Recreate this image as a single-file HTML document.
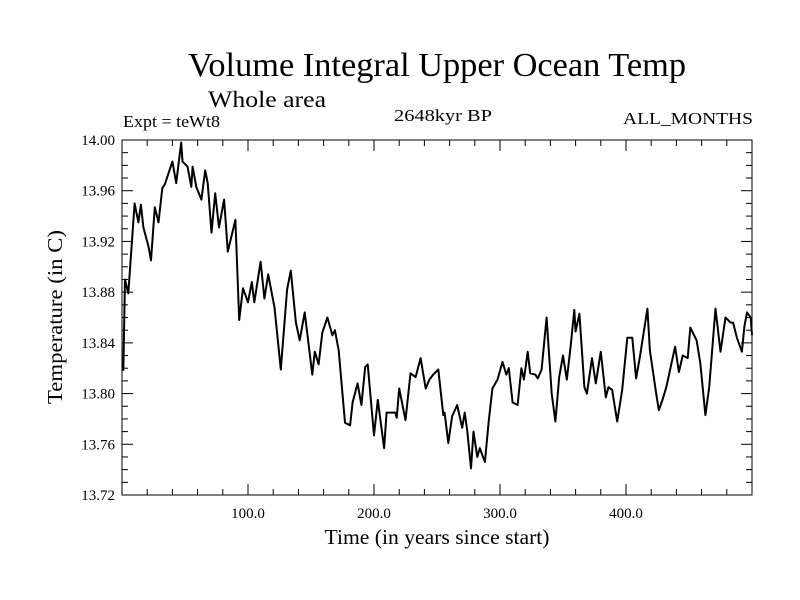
<!DOCTYPE html>
<html><head><meta charset="utf-8"><style>
html,body{margin:0;padding:0;background:#fff;}
svg{display:block;font-family:"Liberation Serif",serif;}
</style></head><body>
<svg id="chart" width="800" height="600" viewBox="0 0 800 600" xmlns="http://www.w3.org/2000/svg">
<rect width="800" height="600" fill="#fff"/>
<text x="437" y="76" font-size="34" text-anchor="middle" textLength="498" lengthAdjust="spacingAndGlyphs">Volume Integral Upper Ocean Temp</text>
<text x="208" y="107" font-size="23" textLength="118" lengthAdjust="spacingAndGlyphs">Whole area</text>
<text x="123" y="127" font-size="17" textLength="97" lengthAdjust="spacingAndGlyphs">Expt = teWt8</text>
<text x="443" y="121" font-size="17" text-anchor="middle" textLength="98" lengthAdjust="spacingAndGlyphs">2648kyr BP</text>
<text x="753" y="124" font-size="17" text-anchor="end" textLength="130" lengthAdjust="spacingAndGlyphs">ALL_MONTHS</text>
<text x="437" y="544" font-size="21" text-anchor="middle" textLength="225" lengthAdjust="spacingAndGlyphs">Time (in years since start)</text>
<text transform="translate(62,317) rotate(-90)" font-size="21" text-anchor="middle" textLength="174" lengthAdjust="spacingAndGlyphs">Temperature (in C)</text>
<g id="axes"></g>
<g id="series"></g>
</svg>
<script>
const years=[1,2.4,5,10,13,15,17,21,23,26,29,32,34,40,43,47,48,52,55,56,59,63,66,68,71,74,77,81,84,90,93,96,100,103,105,110,113,116,121,126,131,134,138,141,145,151,153,156,159,163,167,169,172,177,181,183,187,190,193,195,200,203,208,210,217,218,220,225,229,233,237,241,244,247,251,255,256,259,262,266,270,272,274,277,279,282,284,288,291,294,298,302,305,307,310,314,317,319,322,324,328,330,333,337,341,344,347,350,353,356,359,360,363,367,369,373,376,380,384,386,389,393,397,401,405,408,411,417,419,424,426,429,432,439,442,445,449,451,456,459,463,466,471,475,479,483,485,488,492,494,496,499,500];
const temps=[13.818,13.890,13.879,13.950,13.935,13.949,13.931,13.916,13.905,13.947,13.935,13.962,13.965,13.983,13.966,13.998,13.983,13.979,13.963,13.979,13.963,13.953,13.976,13.966,13.927,13.958,13.931,13.953,13.912,13.937,13.858,13.883,13.872,13.888,13.872,13.904,13.875,13.894,13.868,13.819,13.882,13.897,13.856,13.842,13.864,13.815,13.833,13.823,13.848,13.860,13.846,13.850,13.834,13.777,13.775,13.793,13.808,13.791,13.821,13.823,13.767,13.795,13.757,13.785,13.785,13.781,13.804,13.779,13.816,13.813,13.828,13.804,13.811,13.815,13.819,13.783,13.785,13.761,13.782,13.791,13.773,13.785,13.771,13.741,13.770,13.750,13.757,13.746,13.778,13.804,13.811,13.825,13.815,13.820,13.793,13.791,13.820,13.811,13.833,13.816,13.815,13.812,13.819,13.860,13.800,13.778,13.813,13.830,13.811,13.837,13.866,13.849,13.863,13.805,13.800,13.828,13.808,13.833,13.797,13.805,13.803,13.778,13.803,13.844,13.844,13.812,13.829,13.867,13.834,13.800,13.787,13.795,13.805,13.837,13.817,13.830,13.828,13.852,13.842,13.824,13.783,13.805,13.867,13.833,13.860,13.856,13.856,13.844,13.833,13.853,13.864,13.860,13.846];
const xTickVals=[100,200,300,400];
const xTickLabels=["100.0","200.0","300.0","400.0"];
const yTickVals=[13.72,13.76,13.80,13.84,13.88,13.92,13.96,14.00];
const yTickLabels=["13.72","13.76","13.80","13.84","13.88","13.92","13.96","14.00"];

const L=122,R=752,T=140,B=495,X0=0,X1=500,Y0=13.72,Y1=14.00;
const sx=v=>L+(v-X0)/(X1-X0)*(R-L);
const sy=v=>B-(v-Y0)/(Y1-Y0)*(B-T);
const NS="http://www.w3.org/2000/svg";
const axes=document.getElementById('axes');
function mk(tag,attrs,parent){const e=document.createElementNS(NS,tag);for(const k in attrs)e.setAttribute(k,attrs[k]);parent.appendChild(e);return e;}
const frame=mk('rect',{x:L,y:T,width:R-L,height:B-T,fill:'none',stroke:'#000','stroke-width':1},axes);


// minor/major x ticks
for(let v=20;v<X1;v+=20){
  const major=v%100===0, len=major?11:6, x=sx(v);
  const t1=mk('line',{x1:x,x2:x,y1:B,y2:B-len,stroke:'#000'},axes);
  
  
  const t2=mk('line',{x1:x,x2:x,y1:T,y2:T+len,stroke:'#000'},axes);
  
  
}
for(let i=0;i<=28;i++){
  const v=Y0+i*0.01, major=i%4===0, len=major?11:6, y=sy(v);
  const t1=mk('line',{x1:L,x2:L+len,y1:y,y2:y,stroke:'#000'},axes);
  
  
  const t2=mk('line',{x1:R,x2:R-len,y1:y,y2:y,stroke:'#000'},axes);
  
  
}
xTickVals.forEach((v,i)=>{
  const t=mk('text',{x:sx(v),y:518,'font-size':15,'text-anchor':'middle'},axes);
  t.textContent=xTickLabels[i];
  
  
});
yTickVals.forEach((v,i)=>{
  const t=mk('text',{x:115,y:sy(v)+5,'font-size':15,'text-anchor':'end'},axes);
  t.textContent=yTickLabels[i];
  
  
});
const d=years.map((y,i)=>(i?'L':'M')+sx(y).toFixed(1)+','+sy(temps[i]).toFixed(1)).join('');
const line=mk('path',{d:d,fill:'none',stroke:'#000','stroke-width':2,'stroke-linejoin':'round'},document.getElementById('series'));


</script>
</body></html>
